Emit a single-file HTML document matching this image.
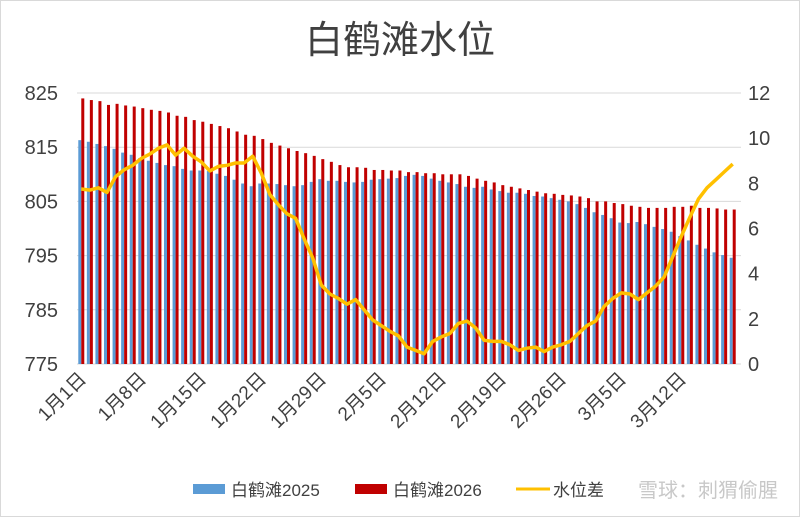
<!DOCTYPE html>
<html><head><meta charset="utf-8"><style>
body{margin:0;background:#fff}
svg{display:block;font-family:"Liberation Sans","Noto Sans CJK SC",sans-serif}
</style></head><body>
<svg id="chart" width="800" height="517" viewBox="0 0 800 517">
<rect x="0.5" y="0.5" width="799" height="516" fill="#fff" stroke="#d9d9d9"/>
<text x="400" y="53" text-anchor="middle" font-size="38" fill="#404040">白鹤滩水位</text>
<g id="grid"></g><g id="bars"></g><g id="line"></g><g id="axes"></g>
<g>
<rect x="193" y="484" width="32" height="10" fill="#5b9bd5"/>
<text x="231" y="496" font-size="17" fill="#404040">白鹤滩2025</text>
<rect x="355" y="484" width="32" height="10" fill="#c00000"/>
<text x="393" y="496" font-size="17" fill="#404040">白鹤滩2026</text>
<line x1="516" y1="489" x2="550" y2="489" stroke="#ffc000" stroke-width="3"/>
<text x="553" y="496" font-size="17" fill="#404040">水位差</text>
</g>
<text x="778" y="497" text-anchor="end" font-size="20" fill="#bbb" opacity="0.8">雪球：刺猬偷腥</text>
</svg>
<script>
const dates=[];
const months=[[1,31],[2,28],[3,18]];
for(const [m,n] of months){for(let d=1;d<=n;d++)dates.push(m+"月"+d+"日");}
const y2025=[816.3,816.0,815.6,815.2,814.7,814.0,813.6,813.0,812.5,812.1,811.7,811.5,811.0,810.7,810.7,810.6,810.1,809.7,809.0,808.3,807.8,808.3,808.3,808.2,808.0,807.8,808.0,808.6,809.1,808.8,808.8,808.6,808.5,808.6,809.0,809.1,809.2,809.3,809.7,809.9,809.7,809.2,808.8,808.5,808.2,807.7,807.5,807.7,807.2,806.9,806.6,806.6,806.4,806.0,805.9,805.6,805.3,805.0,804.5,803.8,803.0,802.5,801.9,801.1,801.0,801.2,800.8,800.3,799.9,799.4,798.6,797.8,797.0,796.3,795.6,795.1,794.6];
const y2026=[824.0,823.7,823.5,822.8,823.0,822.7,822.5,822.2,821.9,821.7,821.4,820.8,820.6,820.0,819.7,819.3,818.9,818.5,817.9,817.3,817.1,816.5,815.8,815.3,814.8,814.3,813.9,813.4,812.8,812.3,811.7,811.3,811.3,811.2,810.8,810.8,810.7,810.7,810.4,810.4,810.2,810.2,810.0,810.0,810.0,809.7,809.2,808.8,808.5,808.0,807.7,807.4,807.1,806.8,806.5,806.4,806.2,806.1,805.9,805.6,805.0,805.0,804.7,804.5,804.2,804.0,803.8,803.8,803.8,804.0,804.0,804.2,803.8,803.8,803.7,803.5,803.5];
const diff=[7.75,7.7,7.8,7.6,8.3,8.6,8.8,9.1,9.3,9.55,9.7,9.25,9.55,9.2,8.95,8.55,8.75,8.8,8.9,8.9,9.2,8.45,7.5,7.05,6.65,6.45,5.55,4.7,3.5,3.1,2.9,2.65,2.85,2.4,1.95,1.7,1.45,1.25,0.75,0.6,0.45,1.0,1.2,1.35,1.8,1.9,1.6,1.05,1.0,1.0,0.85,0.6,0.7,0.75,0.55,0.75,0.85,1.0,1.35,1.7,1.9,2.55,2.9,3.15,3.1,2.85,3.15,3.45,3.85,4.75,5.65,6.5,7.3,7.8,8.15,8.5,8.85];
const leftTicks=[775,785,795,805,815,825];
const rightTicks=[0,2,4,6,8,10,12];
const NS="http://www.w3.org/2000/svg";
const X0=77,X1=737,YT=93,YB=364;
const cw=(X1-X0)/dates.length;
const yL=v=>YB-(v-775)/50*(YB-YT);
const yR=v=>YB-v/12*(YB-YT);
const xc=i=>X0+(i+0.5)*cw;
function mk(tag,attrs,parent){const e=document.createElementNS(NS,tag);for(const k in attrs)e.setAttribute(k,attrs[k]);parent.appendChild(e);return e;}
const grid=document.getElementById('grid'),bars=document.getElementById('bars'),line=document.getElementById('line'),axes=document.getElementById('axes');
leftTicks.forEach(t=>{
 const l=mk('line',{x1:X0,x2:X1+4,y1:yL(t),y2:yL(t),stroke:'#d9d9d9','stroke-width':1},grid);
 
 
 const tx=mk('text',{x:58,y:yL(t)+7,'text-anchor':'end','font-size':20,fill:'#404040'},axes);
 tx.textContent=t;
 
 
});
rightTicks.forEach(t=>{
 const tx=mk('text',{x:748,y:yR(t)+7,'font-size':20,fill:'#404040'},axes);
 tx.textContent=t;
 
 
});
dates.forEach((d,i)=>{
 const b=mk('rect',{x:xc(i)-3,y:yL(y2025[i]),width:3,height:YB-yL(y2025[i]),fill:'#5b9bd5'},bars);
 
 
 const r=mk('rect',{x:xc(i),y:yL(y2026[i]),width:3,height:YB-yL(y2026[i]),fill:'#c00000'},bars);
 
 
 if(i%7===0){
  const x=xc(i)+6,y=380;
  const t=mk('text',{x:x,y:y,'text-anchor':'end','font-size':19,fill:'#404040',transform:`rotate(-45 ${x} ${y})`},axes);
  t.textContent=d;
  
  
 }
});
const pts=diff.map((v,i)=>xc(i).toFixed(1)+','+yR(v).toFixed(1)).join(' ');
const pl=mk('polyline',{points:pts,fill:'none',stroke:'#ffc000','stroke-width':3.5,'stroke-linejoin':'round'},line);


</script>
</body></html>
